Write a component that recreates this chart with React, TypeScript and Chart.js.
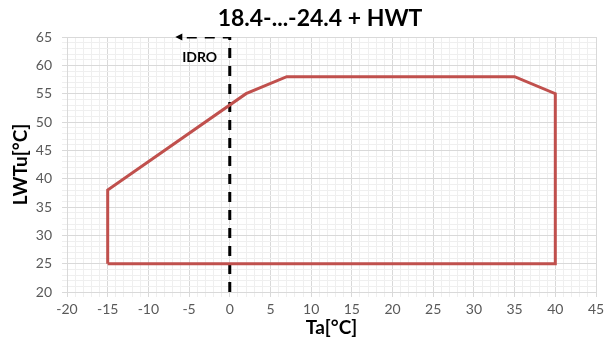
import React, { useEffect, useRef } from "react";
import { Chart, registerables } from "chart.js";

Chart.register(...registerables);

const TITLE = "18.4-...-24.4 + HWT";
const X_TITLE = "Ta[°C]";
const Y_TITLE = "LWTu[°C]";
const X_RANGE = [-20, 45];
const Y_RANGE = [20, 65];

const envelopeX = [-15, -15, 2, 7, 35, 40, 40, -15];
const envelopeY = [25, 38, 55, 58, 58, 55, 25, 25];

const idroX = [0, 0, -6.2];
const idroY = [20, 65, 65];
const idroLabel = "IDRO";
const idroLabelPos = [-3.7, 61.3];

const FONT = "Lato, 'Open Sans', sans-serif";
const RED = "#c0504d";

const toPts = (xs: number[], ys: number[]) => xs.map((x, i) => ({ x, y: ys[i] }));

const overlay = {
  id: "overlay",
  afterDatasetsDraw(chart: any) {
    const { ctx, scales } = chart;
    const xs = scales.x, ys = scales.y;
    const n = idroX.length;
    const tx = xs.getPixelForValue(idroX[n - 1]);
    const ty = ys.getPixelForValue(idroY[n - 1]);
    ctx.save();
    ctx.fillStyle = "#000";
    ctx.beginPath();
    ctx.moveTo(tx - 4, ty);
    ctx.lineTo(tx + 3, ty - 3.5);
    ctx.lineTo(tx + 3, ty + 3.5);
    ctx.closePath();
    ctx.fill();
    ctx.font = `bold 14px ${FONT}`;
    ctx.textAlign = "center";
    ctx.textBaseline = "middle";
    ctx.fillStyle = "#000";
    ctx.fillText(idroLabel, xs.getPixelForValue(idroLabelPos[0]), ys.getPixelForValue(idroLabelPos[1]));
    ctx.font = `bold 23px ${FONT}`;
    ctx.fillText(TITLE, 320, 19);
    ctx.restore();
  },
};

export default function App() {
  const ref = useRef<HTMLCanvasElement>(null);
  useEffect(() => {
    document.body.style.margin = "0";
    const gridColor = (c: any) => (c.tick && Math.round(c.tick.value) % 5 === 0 ? "#d9d9d9" : "#efefef");
    const chart = new Chart(ref.current!, {
      type: "scatter",
      data: {
        datasets: [
          {
            data: toPts(envelopeX, envelopeY),
            showLine: true,
            borderColor: RED,
            borderWidth: 3,
            pointRadius: 0,
            tension: 0,
          },
          {
            data: toPts(idroX, idroY),
            showLine: true,
            borderColor: "#000",
            borderWidth: 3,
            borderDash: [10, 8],
            pointRadius: 0,
            tension: 0,
          },
        ],
      },
      options: {
        animation: false,
        responsive: false,
        layout: { padding: { top: 37, right: 14, left: 0, bottom: 0 } },
        plugins: { legend: { display: false }, tooltip: { enabled: false } },
        scales: {
          x: {
            type: "linear",
            min: X_RANGE[0],
            max: X_RANGE[1],
            afterFit: (s: any) => { s.height = 50; },
            ticks: {
              stepSize: 1,
              autoSkip: false,
              maxRotation: 0,
              padding: 4,
              color: "#595959",
              font: { family: FONT, size: 14 },
              callback: (v: any) => (Math.round(v) % 5 === 0 ? String(v) : ""),
            },
            grid: { color: gridColor, tickLength: 5, lineWidth: 1 },
            border: { color: "#d9d9d9" },
            title: {
              display: true,
              text: X_TITLE,
              color: "#000",
              font: { family: FONT, size: 19, weight: "bold" },
              padding: { top: 0, bottom: 3 },
            },
          },
          y: {
            type: "linear",
            min: Y_RANGE[0],
            max: Y_RANGE[1],
            afterFit: (s: any) => { s.width = 67; },
            ticks: {
              stepSize: 1,
              autoSkip: false,
              padding: 10,
              color: "#595959",
              font: { family: FONT, size: 14 },
              callback: (v: any) => (Math.round(v) % 5 === 0 ? String(v) : ""),
            },
            grid: { color: gridColor, tickLength: 5, lineWidth: 1 },
            border: { color: "#d9d9d9" },
            title: {
              display: true,
              text: Y_TITLE,
              color: "#000",
              font: { family: FONT, size: 19, weight: "bold" },
              padding: { top: 9, bottom: 0 },
            },
          },
        },
      },
      plugins: [overlay],
    });
    return () => chart.destroy();
  }, []);
  return (
    <div style={{ position: "absolute", left: 0, top: 0, width: 610, height: 342 }}>
      <canvas ref={ref} width={610} height={342} />
    </div>
  );
}
